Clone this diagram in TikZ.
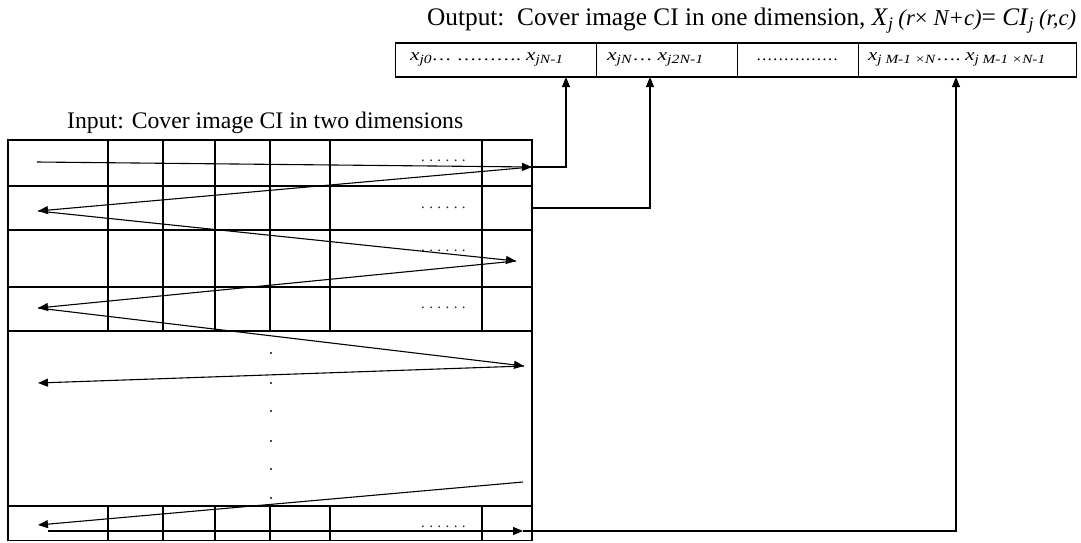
\documentclass[tikz,border=0pt]{standalone}
\usepackage{fontspec}
\setmainfont{Liberation Serif}
\usetikzlibrary{arrows.meta}
\newcommand{\rowdots}{\fontsize{15}{15}\selectfont .\kern4.4pt.\kern4.4pt.\kern4.4pt.\kern4.4pt.\kern4.4pt.}
\newcommand{\xsub}[1]{{\fontsize{17}{17}\selectfont\textit{x}}\raisebox{-3pt}{\fontsize{12.5}{12.5}\selectfont\textit{#1}}}
\begin{document}
\begin{tikzpicture}[x=1pt,y=-1pt,
  gridline/.style={line width=1.1pt},
  zig/.style={line width=1.1pt,-{Triangle[length=10pt,width=8pt]}},
  cellbox/.style={draw,line width=1.1pt,minimum height=34pt,inner sep=0pt,anchor=west},
  label/.style={inner sep=0pt,anchor=base west},
  celltext/.style={inner sep=0pt,anchor=base west,font=\fontsize{16}{16}\selectfont},
  dotrow/.style={inner sep=0pt,anchor=base west,text=black!85}]
\useasboundingbox (0,0) rectangle (1081,542);

% titles
\node[label] (outlabel) at (427,25.5) {\resizebox{649pt}{!}{Output:\ \ Cover image CI in one dimension, \textit{X}\textsubscript{\textit{j}}\,{\small\textit{(r}×\ \textit{N+c)}}= \textit{CI}\textsubscript{\textit{j}}\,{\small\textit{(r,c)}}}};
\node[label] (inlabel) at (67,128.3) {\resizebox{396pt}{!}{Input: Cover image CI in two dimensions}};

% output table
\node[cellbox,minimum width=201pt] (c1) at (395,60) {};
\node[cellbox,minimum width=141pt] (c2) at (596,60) {};
\node[cellbox,minimum width=121pt] (c3) at (737,60) {};
\node[cellbox,minimum width=218pt] (c4) at (858,60) {};
\node[celltext] (t1) at (410,60) {\resizebox{153pt}{\height}{\xsub{j0}…\ ……….\ \xsub{jN-1}}};
\node[celltext] (t2) at (607,60) {\resizebox{96pt}{\height}{\xsub{jN}…\ \xsub{j2N-1}}};
\node[celltext] (t3) at (756,60) {\resizebox{82pt}{\height}{……………}};
\node[celltext] (t4) at (868,60) {\resizebox{177pt}{\height}{\xsub{j\ M-1 ×N}….\ \xsub{j\ M-1 ×N-1}}};

% input grid
\draw[gridline] (8,140) rectangle (532,540.5);
\foreach \yy in {186,230,287,331,506} \draw[gridline] (8,\yy) -- (532,\yy);
\foreach \xx in {108,163,215,270,330,482} {
  \draw[gridline] (\xx,140) -- (\xx,331);
  \draw[gridline] (\xx,506) -- (\xx,540.5);
}
% dots in rows
\node[dotrow] (d1) at (421,161.5) {\rowdots};
\node[dotrow] (d2) at (421,208) {\rowdots};
\node[dotrow] (d3) at (421,251) {\rowdots};
\node[dotrow] (d4) at (421,308) {\rowdots};
\node[dotrow] (d6) at (421,527.5) {\rowdots};
\foreach \yy in {352,382,410,440,468,497} \fill[black!70] (270,\yy) rectangle (272,\yy+1.6);

% zigzag path
\coordinate (a0) at (37,162);
\coordinate (a1) at (532,167);
\coordinate (a2) at (38,211);
\coordinate (a3) at (516,261);
\coordinate (a4) at (38,308);
\coordinate (a5) at (524,366);
\coordinate (a6) at (38,383);
\coordinate (b0) at (523,482);
\coordinate (b1) at (38,525);
\coordinate (e0) at (48,531);
\coordinate (e1) at (523,531);
\draw[zig] (a0) -- (a1);
\draw[zig] (a1) -- (a2);
\draw[zig] (a2) -- (a3);
\draw[zig] (a3) -- (a4);
\draw[zig] (a4) -- (a5);
\draw[zig] (a5) -- (a6);
\draw[zig] (b0) -- (b1);
\draw[zig] (e0) -- (e1);

% connectors to output table
\coordinate (r2) at (532,208);
\coordinate (u1) at (566,77);
\coordinate (u2) at (650,77);
\coordinate (u3) at (956,77);
\draw[zig] (a1) -| (u1);
\draw[zig] (r2) -| (u2);
\draw[zig] (e1) -| (u3);
\end{tikzpicture}
\end{document}
